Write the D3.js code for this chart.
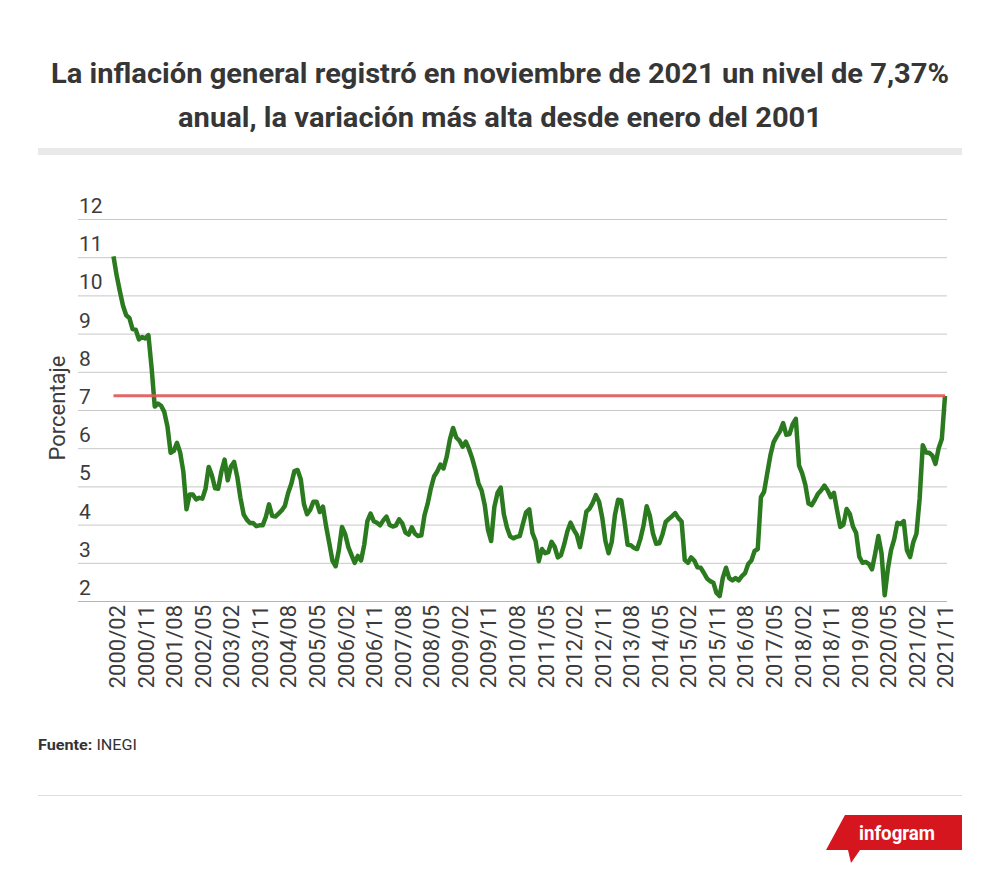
<!DOCTYPE html>
<html>
<head>
<meta charset="utf-8">
<script src="https://cdn.jsdelivr.net/npm/d3@7"></script>
<style>
  body { margin: 0; background: #fff; }
  svg text { font-family: Roboto, "Noto Sans", sans-serif; }
</style>
</head>
<body>
<svg id="chart" width="1000" height="885"></svg>
<script>
// monthly annual inflation (%), 2000/01 .. 2021/11
var inflation = [
  11.02,10.52,10.11,9.73,9.48,9.41,9.12,9.10,8.85,8.91,8.87,8.96,   // 2000
  8.11,7.09,7.17,7.11,6.95,6.57,5.88,5.93,6.14,5.89,5.39,4.40,      // 2001
  4.79,4.79,4.66,4.70,4.68,4.94,5.51,5.29,4.95,4.94,5.39,5.70,      // 2002
  5.16,5.52,5.64,5.25,4.70,4.27,4.13,4.04,4.04,3.96,3.98,3.98,      // 2003
  4.20,4.53,4.23,4.21,4.29,4.37,4.49,4.82,5.06,5.40,5.43,5.19,      // 2004
  4.54,4.27,4.39,4.60,4.60,4.33,4.47,3.95,3.51,3.05,2.91,3.33,      // 2005
  3.94,3.75,3.41,3.20,3.00,3.18,3.06,3.47,4.09,4.29,4.09,4.05,      // 2006
  3.98,4.11,4.21,3.99,3.95,3.98,4.14,4.03,3.79,3.74,3.93,3.76,      // 2007
  3.70,3.72,4.25,4.55,4.95,5.26,5.39,5.57,5.47,5.78,6.23,6.53,      // 2008
  6.28,6.20,6.04,6.17,5.98,5.74,5.44,5.08,4.89,4.50,3.86,3.57,      // 2009
  4.46,4.83,4.97,4.27,3.92,3.69,3.64,3.68,3.70,4.02,4.32,4.40,      // 2010
  3.78,3.57,3.04,3.36,3.25,3.28,3.55,3.42,3.14,3.20,3.48,3.82,      // 2011
  4.05,3.87,3.73,3.41,3.85,4.34,4.42,4.57,4.77,4.60,4.18,3.57,      // 2012
  3.25,3.55,4.25,4.65,4.63,4.09,3.47,3.46,3.39,3.36,3.62,3.97,      // 2013
  4.48,4.23,3.76,3.50,3.51,3.75,4.07,4.15,4.22,4.30,4.17,4.08,      // 2014
  3.07,3.00,3.14,3.06,2.88,2.87,2.74,2.59,2.52,2.48,2.21,2.13,      // 2015
  2.61,2.87,2.60,2.54,2.60,2.54,2.65,2.73,2.97,3.06,3.31,3.36,      // 2016
  4.72,4.86,5.35,5.82,6.16,6.31,6.44,6.66,6.35,6.37,6.63,6.77,      // 2017
  5.55,5.34,5.04,4.55,4.51,4.65,4.81,4.90,5.02,4.90,4.72,4.83,      // 2018
  4.37,3.94,4.00,4.41,4.28,3.95,3.78,3.16,3.00,3.02,2.97,2.83,      // 2019
  3.24,3.70,3.25,2.15,2.84,3.33,3.62,4.05,4.01,4.09,3.33,3.15,      // 2020
  3.54,3.76,4.67,6.08,5.89,5.88,5.81,5.59,6.00,6.24,7.37            // 2021
];
var startYear = 2000;

var tickLabels = [
  "2000/02","2000/11","2001/08","2002/05","2003/02","2003/11","2004/08","2005/05",
  "2006/02","2006/11","2007/08","2008/05","2009/02","2009/11","2010/08","2011/05",
  "2012/02","2012/11","2013/08","2014/05","2015/02","2015/11","2016/08","2017/05",
  "2018/02","2018/11","2019/08","2020/05","2021/02","2021/11"
];
var yTicks = [2,3,4,5,6,7,8,9,10,11,12];
var referenceValue = 7.37;

// category labels yyyy/mm for each value
var months = inflation.map(function(v, i){
  var y = startYear + Math.floor(i / 12), m = (i % 12) + 1;
  return y + "/" + (m < 10 ? "0" + m : m);
});
var data = inflation.map(function(v, i){ return {month: months[i], value: v}; });

var svg = d3.select("#chart");

// title
var title = svg.append("g").attr("fill", "#363636").attr("font-weight", "700").attr("font-size", 28);
title.append("text").attr("x", 500).attr("y", 83).attr("text-anchor", "middle")
  .attr("textLength", 898).attr("lengthAdjust", "spacingAndGlyphs")
  .text("La inflación general registró en noviembre de 2021 un nivel de 7,37%");
title.append("text").attr("x", 500).attr("y", 127).attr("text-anchor", "middle")
  .attr("textLength", 644).attr("lengthAdjust", "spacingAndGlyphs")
  .text("anual, la variación más alta desde enero del 2001");

svg.append("rect").attr("x", 38).attr("y", 148).attr("width", 924).attr("height", 7).attr("fill", "#e9e9e9");

// scales
var x = d3.scalePoint().domain(months).range([113.5, 945]);
var y = d3.scaleLinear().domain([2, 12]).range([601, 219]);

// gridlines + y labels
var grid = svg.append("g");
grid.selectAll("line").data(yTicks).enter().append("line")
  .attr("x1", 78).attr("x2", 947)
  .attr("y1", function(d){ return y(d) + 0.5; })
  .attr("y2", function(d){ return y(d) + 0.5; })
  .attr("stroke", function(d){ return d == 2 ? "#b5b5b5" : "#c8c8c8"; })
  .attr("stroke-width", 1);
grid.selectAll("text").data(yTicks).enter().append("text")
  .attr("x", 79).attr("y", function(d){ return y(d) - 6; })
  .attr("font-size", 21).attr("fill", "#3c3c3c")
  .text(function(d){ return d; });

svg.append("text")
  .attr("transform", "translate(65,408) rotate(-90)")
  .attr("text-anchor", "middle").attr("font-size", 22).attr("fill", "#3c3c3c")
  .text("Porcentaje");

// x axis labels, rotated about each tick
var xAxis = d3.axisBottom(x).tickValues(tickLabels).tickSize(0).tickPadding(0);
var gx = svg.append("g").attr("transform", "translate(0,605)").call(xAxis);
gx.select(".domain").remove();
gx.selectAll(".tick text")
  .attr("font-size", 22).attr("fill", "#3c3c3c").attr("font-family", "Roboto, sans-serif")
  .attr("text-anchor", "end")
  .attr("transform", "rotate(-90)")
  .attr("x", 0).attr("y", 0).attr("dy", "0.36em");

// line
var line = d3.line()
  .x(function(d){ return x(d.month); })
  .y(function(d){ return y(d.value); });
svg.append("path").datum(data)
  .attr("d", line)
  .attr("fill", "none")
  .attr("stroke", "#2b7a1f")
  .attr("stroke-width", 4.5)
  .attr("stroke-linejoin", "round");

// reference line
svg.append("line")
  .attr("x1", x(months[0])).attr("x2", x(months[months.length - 1]))
  .attr("y1", y(referenceValue)).attr("y2", y(referenceValue))
  .attr("stroke", "#e05656").attr("stroke-opacity", 0.9).attr("stroke-width", 3);

// footer
var src = svg.append("text").attr("x", 38).attr("y", 750).attr("font-size", 15).attr("fill", "#333")
  .attr("textLength", 99).attr("lengthAdjust", "spacingAndGlyphs");
src.append("tspan").attr("font-weight", "700").text("Fuente:");
src.append("tspan").text(" INEGI");

svg.append("line").attr("x1", 38).attr("x2", 962).attr("y1", 795.5).attr("y2", 795.5)
  .attr("stroke", "#dedede").attr("stroke-width", 1);

// infogram badge
var logo = svg.append("g");
logo.append("path")
  .attr("d", "M845,815 L962,815 L962,850 L860,850 L851,863 L848,850 L826,850 Z")
  .attr("fill", "#d6161f");
logo.append("text").attr("x", 897).attr("y", 840).attr("text-anchor", "middle")
  .attr("font-size", 20).attr("font-weight", "700").attr("fill", "#fff")
  .attr("textLength", 76).attr("lengthAdjust", "spacingAndGlyphs")
  .text("infogram");
</script>
</body>
</html>
